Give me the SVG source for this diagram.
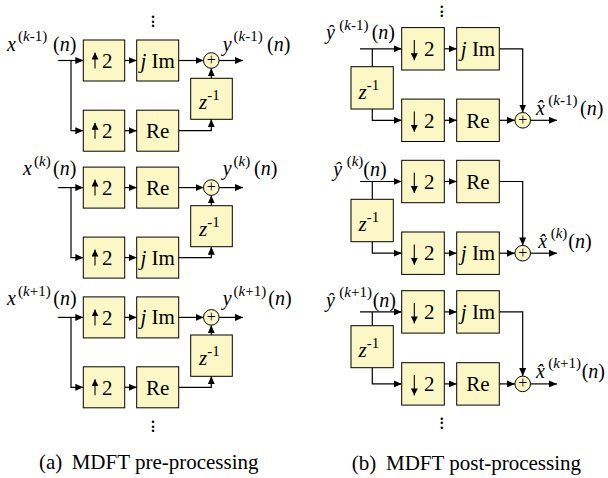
<svg xmlns="http://www.w3.org/2000/svg" width="608" height="478" viewBox="0 0 608 478">
<defs>
<marker id="ah" markerWidth="8" markerHeight="7" refX="8" refY="3.5" orient="auto" markerUnits="userSpaceOnUse"><path d="M0,0 L8,3.5 L0,7 z" fill="#000" stroke="none"/></marker>
<marker id="sh" markerWidth="7" markerHeight="7" refX="7" refY="3.5" orient="auto" markerUnits="userSpaceOnUse"><path d="M0,0 L7,3.5 L0,7 z" fill="#000" stroke="none"/></marker>
</defs>

<g id="connectors" fill="none" stroke="#000" stroke-width="1.2">
<path marker-end="url(#ah)" d="M58,60.5 H83.3"/>
<path marker-end="url(#ah)" d="M71,60.5 V130.7 H83.3"/>
<path marker-end="url(#ah)" d="M124.7,60.5 H136.7"/>
<path marker-end="url(#ah)" d="M178.7,60.5 H203.5"/>
<path marker-end="url(#ah)" d="M219.1,60.5 H243"/>
<path marker-end="url(#ah)" d="M124.7,130.7 H136.7"/>
<path marker-end="url(#ah)" d="M178.7,130.7 H211.3 V119.3"/>
<path marker-end="url(#ah)" d="M211.3,78.3 V68.3"/>
<path marker-end="url(#ah)" d="M58,187.6 H83.3"/>
<path marker-end="url(#ah)" d="M71,187.6 V257.6 H83.3"/>
<path marker-end="url(#ah)" d="M124.7,187.6 H136.7"/>
<path marker-end="url(#ah)" d="M178.7,187.6 H203.5"/>
<path marker-end="url(#ah)" d="M219.1,187.6 H243"/>
<path marker-end="url(#ah)" d="M124.7,257.6 H136.7"/>
<path marker-end="url(#ah)" d="M178.7,257.6 H211.3 V246.7"/>
<path marker-end="url(#ah)" d="M211.3,205.7 V195.4"/>
<path marker-end="url(#ah)" d="M58,317.4 H83.3"/>
<path marker-end="url(#ah)" d="M71,317.4 V387.3 H83.3"/>
<path marker-end="url(#ah)" d="M124.7,317.4 H136.7"/>
<path marker-end="url(#ah)" d="M178.7,317.4 H203.5"/>
<path marker-end="url(#ah)" d="M219.1,317.4 H243"/>
<path marker-end="url(#ah)" d="M124.7,387.3 H136.7"/>
<path marker-end="url(#ah)" d="M178.7,387.3 H211.3 V376.3"/>
<path marker-end="url(#ah)" d="M211.3,335 V325.2"/>
<path marker-end="url(#ah)" d="M360,48.8 H401.7"/>
<path d="M372.3,48.8 V66.7"/>
<path marker-end="url(#ah)" d="M372.3,109 V120.3 H401.7"/>
<path marker-end="url(#ah)" d="M444.3,48.8 H456.7"/>
<path marker-end="url(#ah)" d="M499.3,48.8 H522.7 V112.5"/>
<path marker-end="url(#ah)" d="M444.3,120.3 H456.7"/>
<path marker-end="url(#ah)" d="M499.3,120.3 H514.9"/>
<path marker-end="url(#ah)" d="M530.5,120.3 H557"/>
<path marker-end="url(#ah)" d="M360,181.5 H401.7"/>
<path d="M372.3,181.5 V199.3"/>
<path marker-end="url(#ah)" d="M372.3,241.7 V253.2 H401.7"/>
<path marker-end="url(#ah)" d="M444.3,181.5 H456.7"/>
<path marker-end="url(#ah)" d="M499.3,181.5 H522.7 V245.4"/>
<path marker-end="url(#ah)" d="M444.3,253.2 H456.7"/>
<path marker-end="url(#ah)" d="M499.3,253.2 H514.9"/>
<path marker-end="url(#ah)" d="M530.5,253.2 H557"/>
<path marker-end="url(#ah)" d="M360,311.9 H401.7"/>
<path d="M372.3,311.9 V325.7"/>
<path marker-end="url(#ah)" d="M372.3,367.7 V383.9 H401.7"/>
<path marker-end="url(#ah)" d="M444.3,311.9 H456.7"/>
<path marker-end="url(#ah)" d="M499.3,311.9 H522.7 V376.1"/>
<path marker-end="url(#ah)" d="M444.3,383.9 H456.7"/>
<path marker-end="url(#ah)" d="M499.3,383.9 H514.9"/>
<path marker-end="url(#ah)" d="M530.5,383.9 H557"/>
</g>

<g id="L1-up1"><rect fill="#FBF8C5" stroke="#000" x="83.3" y="40" width="41.4" height="41"/><path stroke="#000" stroke-width="1.1" marker-end="url(#sh)" d="M95,68.5 V52.5"/><text font-family="Liberation Serif" font-size="21" x="102" y="67.7">2</text></g>
<g id="L1-jim"><rect fill="#FBF8C5" stroke="#000" x="136.7" y="40" width="42" height="41"/><text font-family="Liberation Serif" font-size="21" text-anchor="middle" x="157.7" y="67.5"><tspan font-style="italic">j</tspan> Im</text></g>
<g id="L1-up2"><rect fill="#FBF8C5" stroke="#000" x="83.3" y="110.2" width="41.4" height="41"/><path stroke="#000" stroke-width="1.1" marker-end="url(#sh)" d="M95,138.7 V122.7"/><text font-family="Liberation Serif" font-size="21" x="102" y="137.9">2</text></g>
<g id="L1-re"><rect fill="#FBF8C5" stroke="#000" x="136.7" y="110.2" width="42" height="41"/><text font-family="Liberation Serif" font-size="21" text-anchor="middle" x="157.7" y="138">Re</text></g>
<g id="L1-z"><rect fill="#FBF8C5" stroke="#000" x="190.7" y="78.3" width="41.6" height="41"/><text font-family="Liberation Serif" font-size="21" x="199" y="108.5"><tspan font-style="italic">z</tspan><tspan font-size="15" dy="-9">-1</tspan></text></g>
<g id="L1-sum"><circle fill="#FBF8C5" stroke="#000" cx="211.3" cy="60.5" r="7.8"/><text font-family="Liberation Serif" font-size="16" text-anchor="middle" x="211.3" y="65">+</text></g>
<g id="L1-in"><text font-family="Liberation Serif" font-size="20" font-style="italic" x="7" y="50.5">x</text><text font-family="Liberation Serif" font-size="15" x="18" y="41">(<tspan font-style="italic">k</tspan>-1)</text><text font-family="Liberation Serif" font-size="20" x="53" y="50.5">(<tspan font-style="italic">n</tspan>)</text></g>
<g id="L1-out"><text font-family="Liberation Serif" font-size="20" font-style="italic" x="222.7" y="50.5">y</text><text font-family="Liberation Serif" font-size="15" x="233.5" y="41">(<tspan font-style="italic">k</tspan>-1)</text><text font-family="Liberation Serif" font-size="20" x="267" y="50.5">(<tspan font-style="italic">n</tspan>)</text></g>

<g id="L2-up1"><rect fill="#FBF8C5" stroke="#000" x="83.3" y="167.1" width="41.4" height="41"/><path stroke="#000" stroke-width="1.1" marker-end="url(#sh)" d="M95,195.6 V179.6"/><text font-family="Liberation Serif" font-size="21" x="102" y="194.8">2</text></g>
<g id="L2-re"><rect fill="#FBF8C5" stroke="#000" x="136.7" y="167.1" width="42" height="41"/><text font-family="Liberation Serif" font-size="21" text-anchor="middle" x="157.7" y="194.9">Re</text></g>
<g id="L2-up2"><rect fill="#FBF8C5" stroke="#000" x="83.3" y="237.1" width="41.4" height="41"/><path stroke="#000" stroke-width="1.1" marker-end="url(#sh)" d="M95,265.6 V249.6"/><text font-family="Liberation Serif" font-size="21" x="102" y="264.8">2</text></g>
<g id="L2-jim"><rect fill="#FBF8C5" stroke="#000" x="136.7" y="237.1" width="42" height="41"/><text font-family="Liberation Serif" font-size="21" text-anchor="middle" x="157.7" y="264.6"><tspan font-style="italic">j</tspan> Im</text></g>
<g id="L2-z"><rect fill="#FBF8C5" stroke="#000" x="190.7" y="205.7" width="41.6" height="41"/><text font-family="Liberation Serif" font-size="21" x="199" y="235.9"><tspan font-style="italic">z</tspan><tspan font-size="15" dy="-9">-1</tspan></text></g>
<g id="L2-sum"><circle fill="#FBF8C5" stroke="#000" cx="211.3" cy="187.6" r="7.8"/><text font-family="Liberation Serif" font-size="16" text-anchor="middle" x="211.3" y="192.1">+</text></g>
<g id="L2-in"><text font-family="Liberation Serif" font-size="20" font-style="italic" x="23" y="175">x</text><text font-family="Liberation Serif" font-size="15" x="34" y="165.5">(<tspan font-style="italic">k</tspan>)</text><text font-family="Liberation Serif" font-size="20" x="53" y="175">(<tspan font-style="italic">n</tspan>)</text></g>
<g id="L2-out"><text font-family="Liberation Serif" font-size="20" font-style="italic" x="222.7" y="175">y</text><text font-family="Liberation Serif" font-size="15" x="233.5" y="165.5">(<tspan font-style="italic">k</tspan>)</text><text font-family="Liberation Serif" font-size="20" x="254" y="175">(<tspan font-style="italic">n</tspan>)</text></g>

<g id="L3-up1"><rect fill="#FBF8C5" stroke="#000" x="83.3" y="296.9" width="41.4" height="41"/><path stroke="#000" stroke-width="1.1" marker-end="url(#sh)" d="M95,325.4 V309.4"/><text font-family="Liberation Serif" font-size="21" x="102" y="324.6">2</text></g>
<g id="L3-jim"><rect fill="#FBF8C5" stroke="#000" x="136.7" y="296.9" width="42" height="41"/><text font-family="Liberation Serif" font-size="21" text-anchor="middle" x="157.7" y="324.4"><tspan font-style="italic">j</tspan> Im</text></g>
<g id="L3-up2"><rect fill="#FBF8C5" stroke="#000" x="83.3" y="366.8" width="41.4" height="41"/><path stroke="#000" stroke-width="1.1" marker-end="url(#sh)" d="M95,395.3 V379.3"/><text font-family="Liberation Serif" font-size="21" x="102" y="394.5">2</text></g>
<g id="L3-re"><rect fill="#FBF8C5" stroke="#000" x="136.7" y="366.8" width="42" height="41"/><text font-family="Liberation Serif" font-size="21" text-anchor="middle" x="157.7" y="394.6">Re</text></g>
<g id="L3-z"><rect fill="#FBF8C5" stroke="#000" x="190.7" y="335" width="41.6" height="41.3"/><text font-family="Liberation Serif" font-size="21" x="199" y="365.2"><tspan font-style="italic">z</tspan><tspan font-size="15" dy="-9">-1</tspan></text></g>
<g id="L3-sum"><circle fill="#FBF8C5" stroke="#000" cx="211.3" cy="317.4" r="7.8"/><text font-family="Liberation Serif" font-size="16" text-anchor="middle" x="211.3" y="321.9">+</text></g>
<g id="L3-in"><text font-family="Liberation Serif" font-size="20" font-style="italic" x="7" y="305">x</text><text font-family="Liberation Serif" font-size="15" x="18" y="295.5">(<tspan font-style="italic">k</tspan>+1)</text><text font-family="Liberation Serif" font-size="20" x="53.3" y="305">(<tspan font-style="italic">n</tspan>)</text></g>
<g id="L3-out"><text font-family="Liberation Serif" font-size="20" font-style="italic" x="222.7" y="305">y</text><text font-family="Liberation Serif" font-size="15" x="233.5" y="295.5">(<tspan font-style="italic">k</tspan>+1)</text><text font-family="Liberation Serif" font-size="20" x="268.3" y="305">(<tspan font-style="italic">n</tspan>)</text></g>

<g id="L-dots-top"><text font-family="Liberation Serif" font-size="20" text-anchor="middle"><tspan x="153" y="18.2">.</tspan><tspan x="153" y="22.7">.</tspan><tspan x="153" y="27.2">.</tspan></text></g>
<g id="L-dots-bot"><text font-family="Liberation Serif" font-size="20" text-anchor="middle"><tspan x="153" y="423.2">.</tspan><tspan x="153" y="427.7">.</tspan><tspan x="153" y="432.2">.</tspan></text></g>

<g id="R1-dn1"><rect fill="#FBF8C5" stroke="#000" x="401.7" y="27.6" width="42.6" height="42.4"/><path stroke="#000" stroke-width="1.1" marker-end="url(#sh)" d="M414.3,40 V60.3"/><text font-family="Liberation Serif" font-size="21" x="424" y="56">2</text></g>
<g id="R1-jim"><rect fill="#FBF8C5" stroke="#000" x="456.7" y="27.6" width="42.6" height="42.4"/><text font-family="Liberation Serif" font-size="21" text-anchor="middle" x="478" y="56"><tspan font-style="italic">j</tspan> Im</text></g>
<g id="R1-dn2"><rect fill="#FBF8C5" stroke="#000" x="401.7" y="99.1" width="42.6" height="42.4"/><path stroke="#000" stroke-width="1.1" marker-end="url(#sh)" d="M414.3,111.5 V131.8"/><text font-family="Liberation Serif" font-size="21" x="424" y="127.5">2</text></g>
<g id="R1-re"><rect fill="#FBF8C5" stroke="#000" x="456.7" y="99.1" width="42.6" height="42.4"/><text font-family="Liberation Serif" font-size="21" text-anchor="middle" x="478" y="127.5">Re</text></g>
<g id="R1-z"><rect fill="#FBF8C5" stroke="#000" x="351" y="66.7" width="42.3" height="42.3"/><text font-family="Liberation Serif" font-size="21" x="358.5" y="98.5"><tspan font-style="italic">z</tspan><tspan font-size="15" dy="-9">-1</tspan></text></g>
<g id="R1-sum"><circle fill="#FBF8C5" stroke="#000" cx="522.7" cy="120.3" r="7.8"/><text font-family="Liberation Serif" font-size="16" text-anchor="middle" x="522.7" y="124.8">+</text></g>
<g id="R1-in"><text font-family="Liberation Serif" font-size="20" font-style="italic" x="326" y="39">ŷ</text><text font-family="Liberation Serif" font-size="15" x="339.3" y="29.5">(<tspan font-style="italic">k</tspan>-1)</text><text font-family="Liberation Serif" font-size="20" x="371.7" y="39">(<tspan font-style="italic">n</tspan>)</text></g>
<g id="R1-out"><text font-family="Liberation Serif" font-size="20" font-style="italic" x="536" y="114.5">x̂</text><text font-family="Liberation Serif" font-size="15" x="548.3" y="104.5">(<tspan font-style="italic">k</tspan>-1)</text><text font-family="Liberation Serif" font-size="20" x="580" y="114.5">(<tspan font-style="italic">n</tspan>)</text></g>

<g id="R2-dn1"><rect fill="#FBF8C5" stroke="#000" x="401.7" y="160.3" width="42.6" height="42.4"/><path stroke="#000" stroke-width="1.1" marker-end="url(#sh)" d="M414.3,172.7 V193"/><text font-family="Liberation Serif" font-size="21" x="424" y="188.7">2</text></g>
<g id="R2-re"><rect fill="#FBF8C5" stroke="#000" x="456.7" y="160.3" width="42.6" height="42.4"/><text font-family="Liberation Serif" font-size="21" text-anchor="middle" x="478" y="188.7">Re</text></g>
<g id="R2-dn2"><rect fill="#FBF8C5" stroke="#000" x="401.7" y="232" width="42.6" height="42.4"/><path stroke="#000" stroke-width="1.1" marker-end="url(#sh)" d="M414.3,244.4 V264.7"/><text font-family="Liberation Serif" font-size="21" x="424" y="260.4">2</text></g>
<g id="R2-jim"><rect fill="#FBF8C5" stroke="#000" x="456.7" y="232" width="42.6" height="42.4"/><text font-family="Liberation Serif" font-size="21" text-anchor="middle" x="478" y="260.4"><tspan font-style="italic">j</tspan> Im</text></g>
<g id="R2-z"><rect fill="#FBF8C5" stroke="#000" x="351" y="199.3" width="42.3" height="42.4"/><text font-family="Liberation Serif" font-size="21" x="358.5" y="231.1"><tspan font-style="italic">z</tspan><tspan font-size="15" dy="-9">-1</tspan></text></g>
<g id="R2-sum"><circle fill="#FBF8C5" stroke="#000" cx="522.7" cy="253.2" r="7.8"/><text font-family="Liberation Serif" font-size="16" text-anchor="middle" x="522.7" y="257.7">+</text></g>
<g id="R2-in"><text font-family="Liberation Serif" font-size="20" font-style="italic" x="333.3" y="175.5">ŷ</text><text font-family="Liberation Serif" font-size="15" x="346.7" y="166">(<tspan font-style="italic">k</tspan>)</text><text font-family="Liberation Serif" font-size="20" x="363.3" y="175.5">(<tspan font-style="italic">n</tspan>)</text></g>
<g id="R2-out"><text font-family="Liberation Serif" font-size="20" font-style="italic" x="538.3" y="248">x̂</text><text font-family="Liberation Serif" font-size="15" x="550.7" y="238">(<tspan font-style="italic">k</tspan>)</text><text font-family="Liberation Serif" font-size="20" x="568.3" y="248">(<tspan font-style="italic">n</tspan>)</text></g>

<g id="R3-dn1"><rect fill="#FBF8C5" stroke="#000" x="401.7" y="290.7" width="42.6" height="42.4"/><path stroke="#000" stroke-width="1.1" marker-end="url(#sh)" d="M414.3,303.1 V323.4"/><text font-family="Liberation Serif" font-size="21" x="424" y="319.1">2</text></g>
<g id="R3-jim"><rect fill="#FBF8C5" stroke="#000" x="456.7" y="290.7" width="42.6" height="42.4"/><text font-family="Liberation Serif" font-size="21" text-anchor="middle" x="478" y="319.1"><tspan font-style="italic">j</tspan> Im</text></g>
<g id="R3-dn2"><rect fill="#FBF8C5" stroke="#000" x="401.7" y="362.7" width="42.6" height="42.4"/><path stroke="#000" stroke-width="1.1" marker-end="url(#sh)" d="M414.3,375.1 V395.4"/><text font-family="Liberation Serif" font-size="21" x="424" y="391.1">2</text></g>
<g id="R3-re"><rect fill="#FBF8C5" stroke="#000" x="456.7" y="362.7" width="42.6" height="42.4"/><text font-family="Liberation Serif" font-size="21" text-anchor="middle" x="478" y="391.1">Re</text></g>
<g id="R3-z"><rect fill="#FBF8C5" stroke="#000" x="351" y="325.7" width="42.3" height="42"/><text font-family="Liberation Serif" font-size="21" x="358.5" y="357.2"><tspan font-style="italic">z</tspan><tspan font-size="15" dy="-9">-1</tspan></text></g>
<g id="R3-sum"><circle fill="#FBF8C5" stroke="#000" cx="522.7" cy="383.9" r="7.8"/><text font-family="Liberation Serif" font-size="16" text-anchor="middle" x="522.7" y="388.4">+</text></g>
<g id="R3-in"><text font-family="Liberation Serif" font-size="20" font-style="italic" x="326" y="306.5">ŷ</text><text font-family="Liberation Serif" font-size="15" x="339.3" y="297">(<tspan font-style="italic">k</tspan>+1)</text><text font-family="Liberation Serif" font-size="20" x="372.7" y="306.5">(<tspan font-style="italic">n</tspan>)</text></g>
<g id="R3-out"><text font-family="Liberation Serif" font-size="20" font-style="italic" x="536" y="378">x̂</text><text font-family="Liberation Serif" font-size="15" x="548.3" y="368">(<tspan font-style="italic">k</tspan>+1)</text><text font-family="Liberation Serif" font-size="20" x="581.7" y="378">(<tspan font-style="italic">n</tspan>)</text></g>

<g id="R-dots-top"><text font-family="Liberation Serif" font-size="20" text-anchor="middle"><tspan x="441.7" y="8.4">.</tspan><tspan x="441.7" y="12.7">.</tspan><tspan x="441.7" y="17">.</tspan></text></g>
<g id="R-dots-bot"><text font-family="Liberation Serif" font-size="20" text-anchor="middle"><tspan x="441.7" y="419.7">.</tspan><tspan x="441.7" y="424.2">.</tspan><tspan x="441.7" y="428.7">.</tspan></text></g>

<g id="captions">
<text font-family="Liberation Serif" font-size="21" x="39" y="468.5">(a)</text><text font-family="Liberation Serif" font-size="21" x="71.7" y="468.5">MDFT pre-processing</text>
<text font-family="Liberation Serif" font-size="21" x="351.7" y="470">(b)</text><text font-family="Liberation Serif" font-size="21" x="386" y="470">MDFT post-processing</text>
</g>
</svg>
